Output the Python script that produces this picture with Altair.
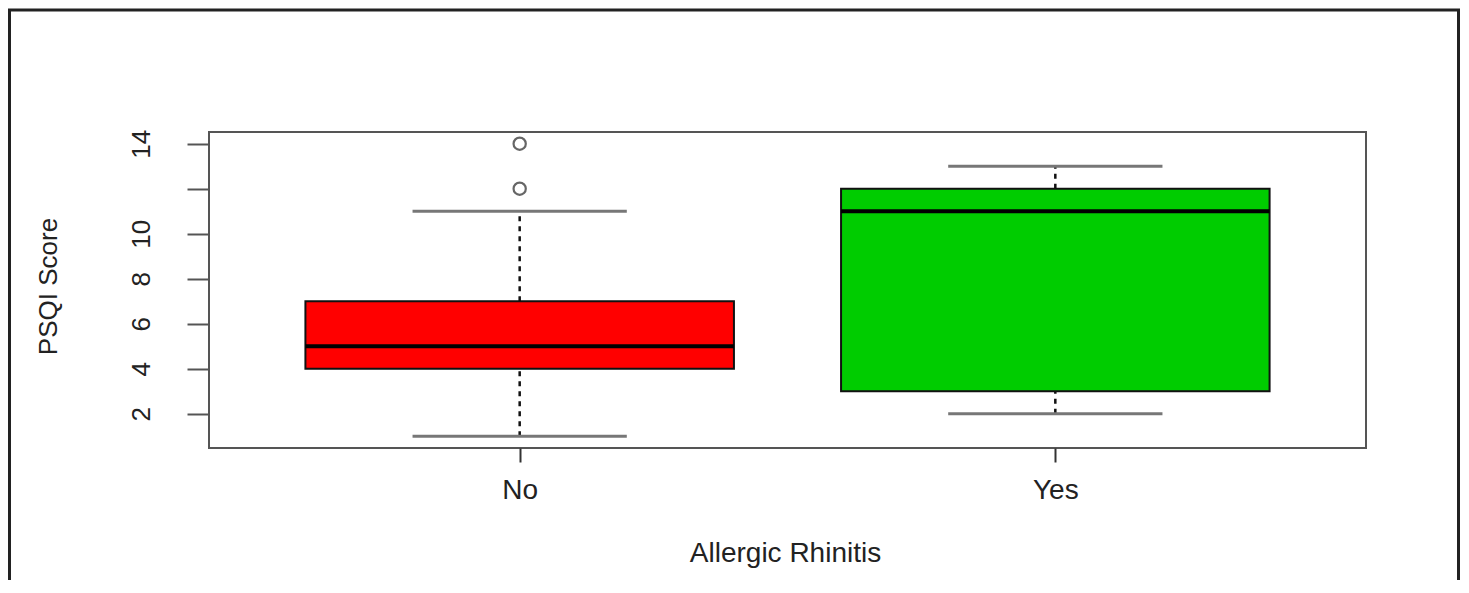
import altair as alt
import pandas as pd

# ---- data ----
groups = ["No", "Yes"]
positions = [1, 2]
whisker_low = [1, 2]
q1 = [4, 3]
median = [5, 11]
q3 = [7, 12]
whisker_high = [11, 13]
box_colors = ["#FF0000", "#00CC00"]

outlier_group = ["No", "No"]
outlier_pos = [1, 1]
outlier_values = [12, 14]

y_ticks = [2, 4, 6, 8, 10, 12, 14]

box_half = 0.4
cap_half = 0.2

df = pd.DataFrame({
    "group": groups, "pos": positions, "lo": whisker_low, "q1": q1,
    "med": median, "q3": q3, "hi": whisker_high,
})
df["bl"] = df["pos"] - box_half
df["br"] = df["pos"] + box_half
df["cl"] = df["pos"] - cap_half
df["cr"] = df["pos"] + cap_half

out_df = pd.DataFrame({"group": outlier_group, "pos": outlier_pos, "val": outlier_values})

FONT = "Liberation Sans"
XT = "Allergic Rhinitis"
YT = "PSQI Score"
xs = alt.Scale(domain=[0.42, 2.58], nice=False, zero=False)
ys = alt.Scale(domain=[0.48, 14.52], nice=False, zero=False)

xa = alt.Axis(values=positions,
              labelExpr="datum.value == 1 ? 'No' : 'Yes'",
              tickSize=14, tickColor="#333", tickWidth=2,
              domain=False, grid=False,
              labelFont=FONT, labelFontSize=28, labelColor="#222",
              labelPadding=14, labelBaseline="top",
              titleFont=FONT, titleFontSize=28, titleFontWeight="normal",
              titleColor="#222", titleX=576, titleY=113,
              titleBaseline="alphabetic")
ya = alt.Axis(values=y_ticks,
              labelExpr="datum.value == 12 ? '' : datum.label",
              tickSize=22, tickColor="#555", tickWidth=2,
              domain=False, grid=False,
              labelAngle=-90, labelAlign="center", labelBaseline="bottom",
              labelFont=FONT, labelFontSize=26, labelColor="#222",
              labelPadding=33,
              titleFont=FONT, titleFontSize=26, titleFontWeight="normal",
              titleColor="#222", titleAngle=-90, titleX=-161, titleY=154,
              titleAlign="center", titleBaseline="middle")


def X(f):
    return alt.X(f, type="quantitative", scale=xs, axis=xa, title=XT)


def Y(f):
    return alt.Y(f, type="quantitative", scale=ys, axis=ya, title=YT)


base = alt.Chart(df)

whisk_up = base.mark_rule(color="#111", strokeWidth=2.5, strokeDash=[5, 5]).encode(
    x=X("pos"), y=Y("q3"), y2="hi:Q")
whisk_lo = base.mark_rule(color="#111", strokeWidth=2.5, strokeDash=[5, 5]).encode(
    x=X("pos"), y=Y("lo"), y2="q1:Q")
cap_hi = base.mark_rule(color="#777", strokeWidth=3).encode(
    x=X("cl"), x2="cr:Q", y=Y("hi"))
cap_lo = base.mark_rule(color="#777", strokeWidth=3).encode(
    x=X("cl"), x2="cr:Q", y=Y("lo"))
boxes = base.mark_rect(stroke="#111", strokeWidth=2).encode(
    x=X("bl"), x2="br:Q", y=Y("q1"), y2="q3:Q",
    color=alt.Color("group:N", scale=alt.Scale(domain=groups, range=box_colors), legend=None),
)
med = base.mark_rule(color="#000", strokeWidth=4).encode(
    x=X("bl"), x2="br:Q", y=Y("med"))
outs = alt.Chart(out_df).mark_point(shape="circle", filled=False, size=150,
                                    stroke="#666", strokeWidth=2.2, opacity=1).encode(
    x=X("pos"), y=Y("val"))

frame_src = alt.Chart(pd.DataFrame({"k": [0]}))
fr_left = frame_src.mark_rule(color="#222", strokeWidth=3).encode(
    x=alt.value(-199.5), y=alt.value(-122), y2=alt.value(470))
fr_right = frame_src.mark_rule(color="#222", strokeWidth=3).encode(
    x=alt.value(1249.5), y=alt.value(-122), y2=alt.value(470))
fr_top = frame_src.mark_rule(color="#222", strokeWidth=3).encode(
    x=alt.value(-201), x2=alt.value(1251), y=alt.value(-122))

chart = alt.layer(
    whisk_up, whisk_lo, cap_hi, cap_lo, boxes, med, outs, fr_left, fr_right, fr_top
).properties(
    width=1157, height=316,
    padding={"left": 201, "top": 124, "right": 94, "bottom": 132},
    autosize=alt.AutoSizeParams(type="none"),
).configure_view(
    stroke="#555", strokeWidth=2
)

chart.save("out.html", embed_options={"renderer": "svg", "actions": False})
